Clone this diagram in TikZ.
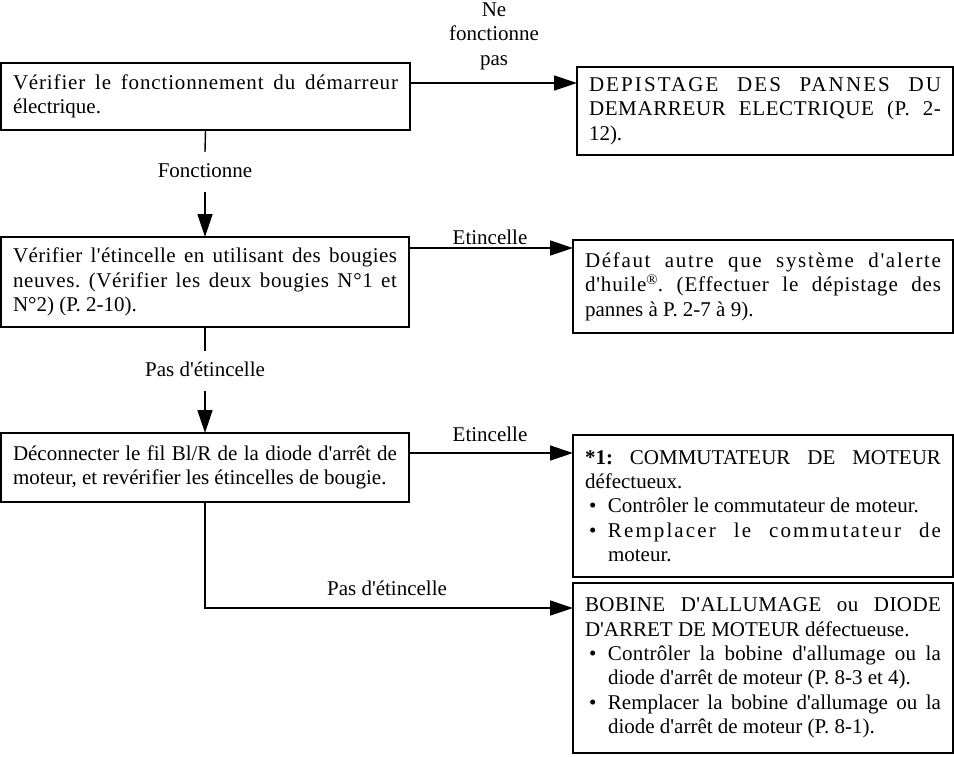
\documentclass[tikz,border=0pt]{standalone}
\usepackage{fontspec}
\setmainfont{Liberation Serif}[Ligatures=TeXOff]
\usetikzlibrary{arrows.meta,calc}
\newcommand{\bodyfont}{\fontsize{21}{24.4}\selectfont\frenchspacing\hyphenpenalty=10000\exhyphenpenalty=10000\tolerance=9999\emergencystretch=20pt}
\newcommand{\bul}{\par\leavevmode\hangindent=23pt\hangafter=1\hbox to 23pt{\hspace{4pt}•\hfil}}
\newcommand{\ls}[2]{{\addfontfeature{LetterSpace=#1}#2}}
\tikzset{
  box/.style={draw, line width=1.4pt, inner xsep=12pt, inner ysep=0pt, outer sep=0pt,
    anchor=north west, align=justify, font=\bodyfont},
  lab/.style={font=\bodyfont, inner sep=0pt, align=center},
  vlab/.style={font=\bodyfont, inner xsep=0pt, minimum height=40pt, text height=14pt, text depth=4pt},
  arr/.style={line width=1.4pt, -{Triangle[length=23pt,width=15pt]}},
  conn/.style={line width=1.4pt}
}
\begin{document}
\begin{tikzpicture}[x=1pt,y=-1pt]
\useasboundingbox (0,0) rectangle (954,756);

\node[box, text width=385pt, minimum height=67pt] (A) at (1,63)
  {\ls{4}{Vérifier le fonctionnement du démarreur}\linebreak électrique.\par};
\node[box, text width=352pt, minimum height=88pt] (B) at (577,67)
  {\ls{10}{DEPISTAGE DES PANNES DU}\linebreak \ls{3}{DEMARREUR ELECTRIQUE (P. 2-}\linebreak 12).\par};
\node[box, text width=384pt, minimum height=90pt] (C) at (1,237)
  {\ls{2}{Vérifier l'étincelle en utilisant des bougies}\linebreak \ls{3}{neuves. (Vérifier les deux bougies N°1 et}\linebreak N°2) (P. 2-10).\par};
\node[box, text width=356pt, minimum height=93pt] (D) at (573,240)
  {\ls{8}{Défaut autre que système d'alerte}\linebreak \ls{4}{d'huile\textsuperscript{®}. (Effectuer le dépistage des}\linebreak pannes à P. 2-7 à 9).\par};
\node[box, text width=384pt, minimum height=69pt] (E) at (1,433)
  {Déconnecter le fil Bl/R de la diode d'arrêt de\linebreak moteur, et revérifier les étincelles de bougie.\par};
\node[box, text width=356pt, minimum height=142pt] (F) at (573,435)
  {\textbf{*1:} COMMUTATEUR DE MOTEUR\linebreak défectueux.%
   \bul Contrôler le commutateur de moteur.%
   \bul \ls{10}{Remplacer le commutateur de}\linebreak moteur.\par};
\node[box, text width=356pt, minimum height=170pt] (G) at (573,583)
  {\ls{2}{BOBINE D'ALLUMAGE ou DIODE}\linebreak D'ARRET DE MOTEUR défectueuse.%
   \bul \ls{1}{Contrôler la bobine d'allumage ou la}\linebreak diode d'arrêt de moteur (P. 8-3 et 4).%
   \bul Remplacer la bobine d'allumage ou la\linebreak diode d'arrêt de moteur (P. 8-1).\par};

% labels
\node[lab] (l1) at (494,36) {Ne\\fonctionne\\pas};
\node[vlab] (l2) at (205,172) {Fonctionne};
\node[lab] (l3) at (490,237) {Etincelle};
\node[vlab] (l4) at (205,371) {Pas d'étincelle};
\node[lab] (l5) at (490,434) {Etincelle};
\node[lab] (l6) at (387,588) {Pas d'étincelle};

% connectors
\draw[arr] ($(A.north east)+(0,20)$) -- ($(B.north west)+(0,16)$);
\draw[conn] (A.south) -- (l2.north);
\draw[arr] (l2.south) -- (C.north);
\draw[arr] ($(C.north east)+(0,11)$) -- ($(D.north west)+(0,8)$);
\draw[conn] (C.south) -- (l4.north);
\draw[arr] (l4.south) -- (E.north);
\draw[arr] ($(E.north east)+(0,20)$) -- ($(F.north west)+(0,18)$);
\draw[arr] (E.south) |- ($(G.north west)+(0,25)$);
\end{tikzpicture}
\end{document}
